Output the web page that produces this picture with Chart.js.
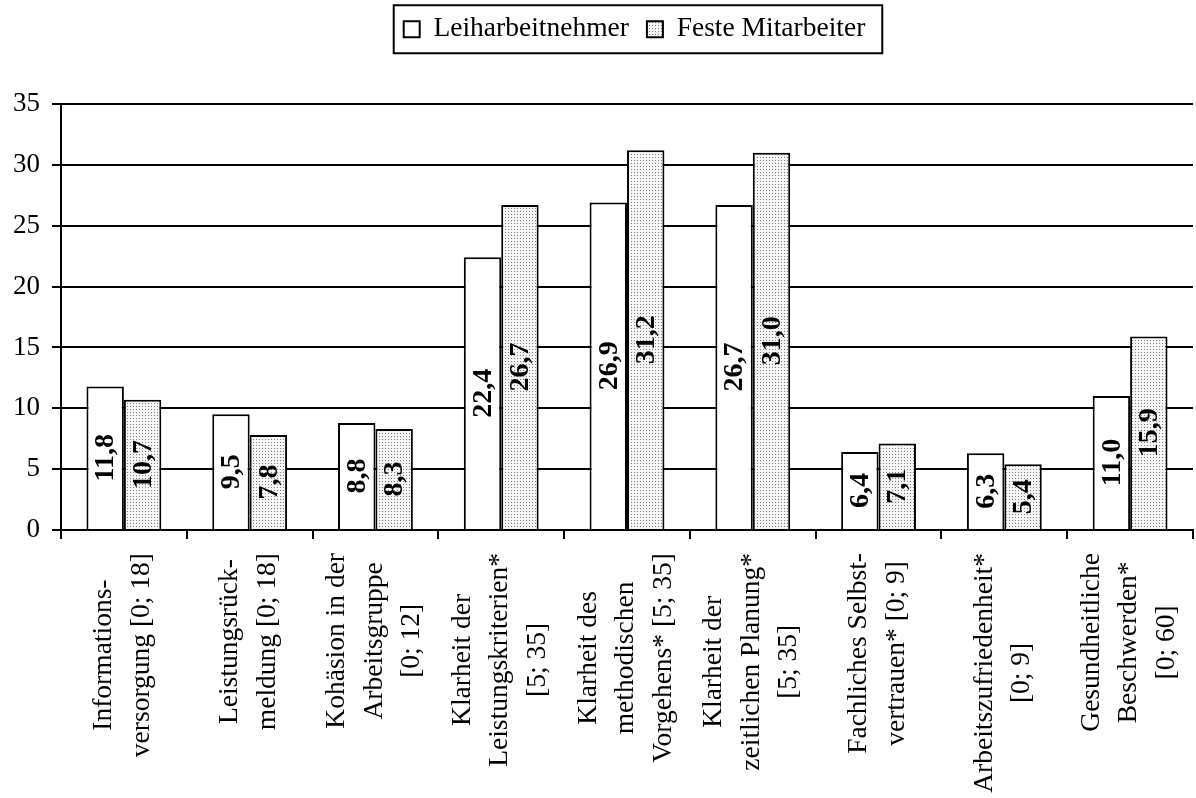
<!DOCTYPE html>
<html>
<head>
<meta charset="utf-8">
<script src="https://cdn.jsdelivr.net/npm/chart.js@4/dist/chart.umd.min.js"></script>
<style>
html,body{margin:0;padding:0;background:#fff;}
#wrap{width:1196px;height:798px;}
</style>
</head>
<body>
<div id="wrap"><canvas id="c" width="1196" height="798"></canvas></div>
<script>
const categories = [
  ["Informations-", "versorgung [0; 18]"],
  ["Leistungsrück-", "meldung [0; 18]"],
  ["Kohäsion in der", "Arbeitsgruppe", "[0; 12]"],
  ["Klarheit der", "Leistungskriterien*", "[5; 35]"],
  ["Klarheit des", "methodischen", "Vorgehens* [5; 35]"],
  ["Klarheit der", "zeitlichen Planung*", "[5; 35]"],
  ["Fachliches Selbst-", "vertrauen* [0; 9]"],
  ["Arbeitszufriedenheit*", "[0; 9]"],
  ["Gesundheitliche", "Beschwerden*", "[0; 60]"]
];
const leiharbeitnehmer = [11.8, 9.5, 8.8, 22.4, 26.9, 26.7, 6.4, 6.3, 11.0];
const festeMitarbeiter = [10.7, 7.8, 8.3, 26.7, 31.2, 31.0, 7.1, 5.4, 15.9];
const seriesNames = ["Leiharbeitnehmer", "Feste Mitarbeiter"];
const yMin = 0, yMax = 35, yStep = 5;

const FONT = "'Liberation Serif', 'Times New Roman', serif";

function makePattern() {
  const c = document.createElement('canvas');
  c.width = 3; c.height = 3;
  const g = c.getContext('2d');
  g.fillStyle = '#f6f6f6';
  g.fillRect(0, 0, 3, 3);
  g.fillStyle = '#7c7c7c';
  g.fillRect(1, 1, 1, 1);
  return document.getElementById('c').getContext('2d').createPattern(c, 'repeat');
}
const dotted = makePattern();

function fmt(v) { return v.toFixed(1).replace('.', ','); }

const customDraw = {
  id: 'customDraw',
  afterLayout(chart) {
    const lg = chart.legend;
    if (lg) {
      const dx = 38, dy = -51;
      lg.left += dx; lg.right += dx;
      lg.top += dy; lg.bottom += dy;
    }
  },
  afterDatasetsDraw(chart) {
    const ctx = chart.ctx;
    chart.data.datasets.forEach((ds, di) => {
      const meta = chart.getDatasetMeta(di);
      meta.data.forEach((bar, i) => {
        const v = ds.data[i];
        const cx = bar.x, cy = (bar.y + bar.base) / 2;
        ctx.save();
        ctx.translate(cx + 1, cy);
        ctx.rotate(-Math.PI / 2);
        ctx.font = 'bold 28px ' + FONT;
        ctx.textAlign = 'center';
        ctx.textBaseline = 'middle';
        ctx.fillStyle = '#000';
        ctx.fillText(fmt(v), 0, 0);
        ctx.restore();
      });
    });
  },
  afterDraw(chart) {
    const ctx = chart.ctx;
    const xs = chart.scales.x;
    const top = xs.top + 23;
    ctx.save();
    ctx.font = '27.5px ' + FONT;
    ctx.fillStyle = '#000';
    chart.data.labels.forEach((lines, i) => {
      const x = xs.getPixelForValue(i);
      const maxW = Math.max(...lines.map(l => ctx.measureText(l).width));
      const n = lines.length;
      lines.forEach((line, j) => {
        ctx.save();
        ctx.translate(x - 1 + (j - (n - 1) / 2) * 37.5, top + maxW / 2);
        ctx.rotate(-Math.PI / 2);
        ctx.textAlign = 'center';
        ctx.textBaseline = 'middle';
        ctx.fillText(line, 0, 0);
        ctx.restore();
      });
    });
    ctx.restore();
    // legend frame
    const hb = chart.legend && chart.legend.legendHitBoxes;
    if (hb && hb.length) {
      const l = hb[0].left - 10;
      const last = hb[hb.length - 1];
      const r = last.left + last.width + 17;
      const cy = hb[0].top + hb[0].height / 2;
      ctx.save();
      ctx.strokeStyle = '#000';
      ctx.lineWidth = 2;
      ctx.strokeRect(l, cy - 24, r - l, 48);
      ctx.restore();
    }
  }
};

new Chart(document.getElementById('c'), {
  type: 'bar',
  data: {
    labels: categories,
    datasets: [
      {
        label: seriesNames[0],
        data: leiharbeitnehmer,
        backgroundColor: '#ffffff',
        borderColor: '#000000',
        borderWidth: 2,
        categoryPercentage: 0.595,
        barPercentage: 1.0
      },
      {
        label: seriesNames[1],
        data: festeMitarbeiter,
        backgroundColor: dotted,
        borderColor: '#000000',
        borderWidth: 2,
        categoryPercentage: 0.595,
        barPercentage: 1.0
      }
    ]
  },
  options: {
    responsive: false,
    animation: false,
    devicePixelRatio: 1,
    layout: { padding: { top: 48.5, left: 0, right: 3, bottom: 0 } },
    plugins: {
      legend: {
        position: 'top',
        labels: {
          font: { family: FONT, size: 27.5 },
          color: '#000',
          boxWidth: 16,
          boxHeight: 16,
          padding: 18
        }
      },
      tooltip: { enabled: false }
    },
    scales: {
      x: {
        grid: {
          offset: true,
          drawOnChartArea: false,
          drawTicks: true,
          tickLength: 9,
          color: '#000',
          lineWidth: 2
        },
        border: { color: '#000', width: 2 },
        ticks: { display: false, autoSkip: false },
        afterFit(scale) { scale.height = 268; }
      },
      y: {
        min: yMin,
        max: yMax,
        ticks: {
          stepSize: yStep,
          font: { family: FONT, size: 27 },
          color: '#000',
          padding: 12
        },
        grid: {
          color: '#000',
          lineWidth: 2,
          drawTicks: true,
          tickLength: 9
        },
        border: { color: '#000', width: 2 },
        afterFit(scale) { scale.width = 61; }
      }
    }
  },
  plugins: [customDraw]
});
</script>
</body>
</html>
